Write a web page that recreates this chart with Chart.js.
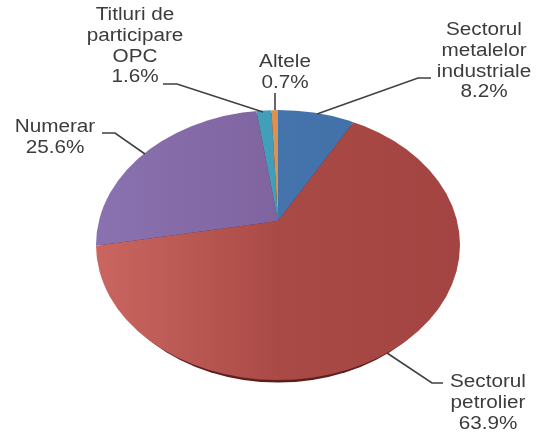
<!DOCTYPE html>
<html>
<head>
<meta charset="utf-8">
<style>
  html, body { margin: 0; padding: 0; background: #fff; }
  canvas { display: block; }
</style>
<script src="https://cdn.jsdelivr.net/npm/chart.js@4/dist/chart.umd.min.js"></script>
</head>
<body>
<canvas id="myChart" width="544" height="432"></canvas>
<script>
// data
const categories = ['Sectorul metalelor industriale', 'Sectorul petrolier', 'Numerar', 'Titluri de participare OPC', 'Altele'];
const shares = [8.2, 63.9, 25.6, 1.6, 0.7];
const shareLabels = ['8.2%', '63.9%', '25.6%', '1.6%', '0.7%'];

// label layout, one entry per category
const nameLines = [
  ['Sectorul', 'metalelor', 'industriale'],
  ['Sectorul', 'petrolier'],
  ['Numerar'],
  ['Titluri de', 'participare', 'OPC'],
  ['Altele']
];
const labelCenterX = [484, 488, 55, 135, 285];
const labelFirstY = [30, 382, 127, 15, 62];
const leaders = [
  [[317, 114], [418, 78], [431, 78]],
  [[387, 353], [432, 383], [443, 383]],
  [[145, 154], [115, 133], [102, 133]],
  [[263, 112], [177, 84], [163, 84]],
  [[275, 110], [275, 93]]
];

// slice colours, left to right across the pie
const sliceColors = [
  ['#4a7ab5', '#3f6ea3'],
  ['#ca6660', '#aa4a46', '#a34442'],
  ['#8a72b0', '#74568f'],
  ['#4aa7c4', '#3a93ad'],
  ['#e39a5c', '#d28a48']
];

// the picture is a tilted pie: outline is an ellipse, the spokes meet above its middle
const outline = { x: 278, y: 245, rx: 182, ry: 135 };
const hub = { x: 278, y: 221, tilt: 0.74 };
const lineHeight = 20.8;
const textStretch = 1.15;

const ctx = document.getElementById('myChart').getContext('2d');

const sliceFill = (context) => {
  const stops = sliceColors[context.dataIndex];
  const g = ctx.createLinearGradient(outline.x - outline.rx, 0, outline.x + outline.rx, 0);
  stops.forEach((c, i) => g.addColorStop(i / (stops.length - 1), c));
  return g;
};

const tiltedPie = {
  id: 'tiltedPie',
  beforeDatasetsDraw(chart) {
    const c = chart.ctx;
    // dark rim under the bottom edge
    c.save();
    c.fillStyle = '#5e1f1c';
    c.beginPath();
    c.ellipse(outline.x, outline.y + 2.5, outline.rx - 5, outline.ry, 0, 0, Math.PI * 2);
    c.fill();
    c.restore();

    c.save();
    c.beginPath();
    c.ellipse(outline.x, outline.y, outline.rx, outline.ry, 0, 0, Math.PI * 2);
    c.clip();
    c.translate(0, hub.y);
    c.scale(1, hub.tilt);
    c.translate(0, -hub.y);
  },
  afterDatasetsDraw(chart) {
    chart.ctx.restore();
  },
  afterDraw(chart) {
    const c = chart.ctx;
    c.save();
    c.strokeStyle = '#404040';
    c.lineWidth = 1.6;
    leaders.forEach((pts) => {
      c.beginPath();
      pts.forEach((p, i) => (i ? c.lineTo(p[0], p[1]) : c.moveTo(p[0], p[1])));
      c.stroke();
    });
    c.fillStyle = '#3c3c3c';
    c.font = '18px "Liberation Sans", Arial, sans-serif';
    c.textAlign = 'center';
    c.textBaseline = 'middle';
    categories.forEach((name, i) => {
      nameLines[i].concat(shareLabels[i]).forEach((line, k) => {
        c.save();
        c.translate(labelCenterX[i], labelFirstY[i] + k * lineHeight);
        c.scale(textStretch, 1);
        c.fillText(line, 0, 0);
        c.restore();
      });
    });
    c.restore();
  }
};

new Chart(ctx, {
  type: 'pie',
  data: {
    labels: categories,
    datasets: [{
      data: shares,
      backgroundColor: sliceFill,
      borderWidth: 0,
      clip: false
    }]
  },
  options: {
    responsive: false,
    animation: false,
    radius: '125%', // oversized on purpose, the ellipse clip trims it
    layout: {
      padding: { left: 96, right: 84, top: 39, bottom: 29 }
    },
    plugins: {
      legend: { display: false },
      tooltip: { enabled: false }
    }
  },
  plugins: [tiltedPie]
});
</script>
</body>
</html>
